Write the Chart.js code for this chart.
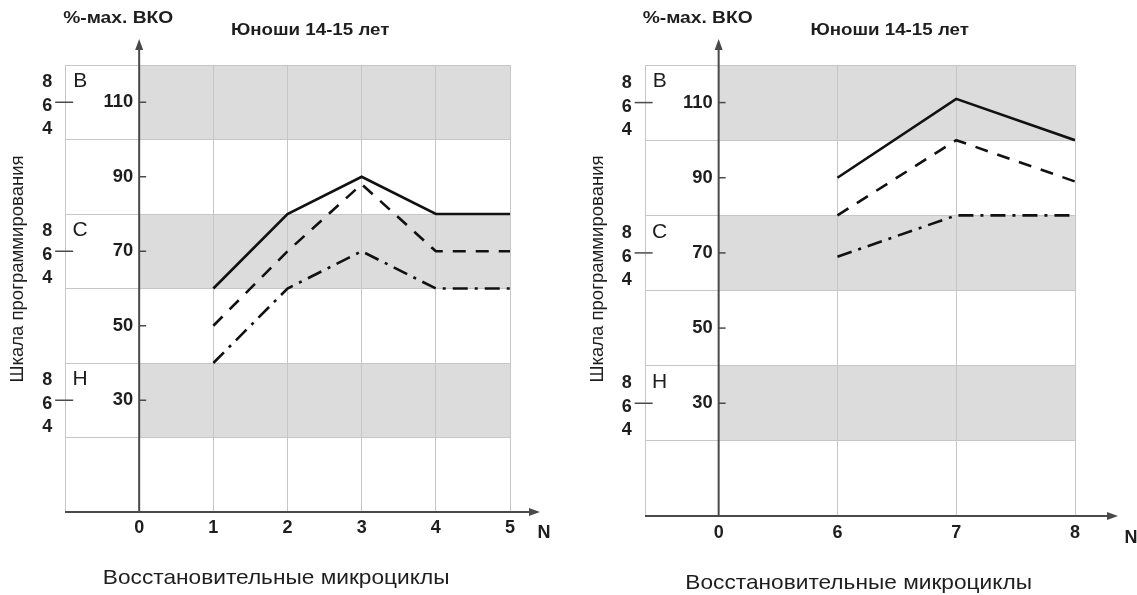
<!DOCTYPE html>
<html><head><meta charset="utf-8">
<script src="https://cdn.jsdelivr.net/npm/chart.js@4/dist/chart.umd.min.js"></script>
<style>
html,body{margin:0;padding:0;background:#fff;}
body{width:1137px;height:595px;overflow:hidden;position:relative;}
.box{position:absolute;top:0;height:595px;}
</style></head><body>
<div class="box" style="left:0;width:570px"><canvas id="c1"></canvas></div>
<div class="box" style="left:570px;width:567px"><canvas id="c2"></canvas></div>
<script>
// ---- texts ----
const titleText = 'Юноши 14-15 лет';
const yUnitText = '%-мах. ВКО';
const xTitleText = 'Восстановительные микроциклы';
const yTitleText = 'Шкала программирования';
const xAxisName = 'N';

// ---- categories (x) ----
const leftCategories = ['0', '1', '2', '3', '4', '5'];
const rightCategories = ['0', '6', '7', '8'];

// ---- series values (null = no value) ----
const leftSolid   = [null, 60, 80, 90, 80, 80];
const leftDashed  = [null, 50, 70, 88, 70, 70];
const leftDashDot = [null, 40, 60, 70, 60, 60];

const rightSolid   = [null, 90, 111, 100];
const rightDashed  = [null, 80, 100, 89];
const rightDashDot = [null, 69, 80, 80];

// ---- y tick labels and zones ----
const yTickLabels = [30, 50, 70, 90, 110];
const yGridValues = [0, 20, 40, 60, 80, 100, 120];
const zoneLetters = ['В', 'С', 'Н'];
const zoneCenters = [110, 70, 30];
const zoneSubLabels = ['8', '6', '4'];
const shadedBands = [[100, 120], [60, 80], [20, 40]];

const FONT = '"Liberation Sans", Arial, sans-serif';
const TEXT = '#1e1e1e';
const AXIS = '#4a4a4a';
const GRID = '#c6c6c6';

function stretchText(ctx, txt, x, y, font, align, sx) {
  ctx.save();
  ctx.font = font;
  ctx.textAlign = align;
  ctx.textBaseline = 'middle';
  ctx.translate(x, y);
  ctx.scale(sx, 1);
  ctx.fillText(txt, 0, 0);
  ctx.restore();
}

function makeDecor(cats, opts) {
  return {
    id: 'decor',
    beforeDraw(chart) {
      const {ctx, chartArea: a, scales: {x, y}} = chart;
      const x0 = x.getPixelForValue(0);
      ctx.save();
      ctx.fillStyle = '#dcdcdc';
      shadedBands.forEach(([lo, hi]) => {
        const yt = y.getPixelForValue(hi), yb = y.getPixelForValue(lo);
        ctx.fillRect(x0, yt, a.right - x0, yb - yt);
      });
      ctx.restore();
    },
    afterDraw(chart) {
      const {ctx, chartArea: a, scales: {x, y}} = chart;
      const x0 = x.getPixelForValue(0);
      const yb = y.getPixelForValue(0);
      ctx.save();
      // axes
      ctx.strokeStyle = AXIS; ctx.fillStyle = AXIS; ctx.lineWidth = 2;
      ctx.beginPath();
      ctx.moveTo(x0, yb); ctx.lineTo(x0, a.top - 18);
      ctx.moveTo(a.left, yb); ctx.lineTo(a.right + opts.arrowExt - 6, yb);
      ctx.stroke();
      // arrowheads
      ctx.beginPath();
      ctx.moveTo(x0, a.top - 26); ctx.lineTo(x0 - 4, a.top - 15); ctx.lineTo(x0 + 4, a.top - 15); ctx.closePath(); ctx.fill();
      const tx = a.right + opts.arrowExt;
      ctx.beginPath();
      ctx.moveTo(tx, yb); ctx.lineTo(tx - 11, yb - 4); ctx.lineTo(tx - 11, yb + 4); ctx.closePath(); ctx.fill();
      // y tick marks
      ctx.lineWidth = 1.5;
      yTickLabels.forEach(v => {
        const py = y.getPixelForValue(v);
        ctx.beginPath(); ctx.moveTo(x0, py); ctx.lineTo(x0 + 7, py); ctx.stroke();
      });
      // zone dashes
      zoneCenters.forEach(v => {
        const py = y.getPixelForValue(v);
        ctx.beginPath(); ctx.moveTo(x0 - 84, py); ctx.lineTo(x0 - 66, py); ctx.stroke();
      });
      ctx.fillStyle = TEXT;
      // y tick labels
      yTickLabels.forEach(v => {
        stretchText(ctx, String(v), x0 - 6, y.getPixelForValue(v), 'bold 18px ' + FONT, 'right', 1.02);
      });
      // zone labels
      zoneCenters.forEach((v, i) => {
        const py = y.getPixelForValue(v);
        const offs = [-20, 4, 27];
        zoneSubLabels.forEach((s, j) => {
          stretchText(ctx, s, x0 - 92, py + offs[j], 'bold 18px ' + FONT, 'center', 1);
        });
        stretchText(ctx, zoneLetters[i], x0 - 59, py - 21, '21px ' + FONT, 'center', 1);
      });
      // x tick labels
      cats.forEach((c, i) => {
        stretchText(ctx, c, x.getPixelForValue(i), yb + opts.xLabelDy, 'bold 18px ' + FONT, 'center', 1);
      });
      stretchText(ctx, xAxisName, a.right + opts.nDx, yb + opts.xLabelDy + 5, 'bold 18px ' + FONT, 'center', 1);
      // titles
      stretchText(ctx, titleText, x0 + 171, 31, 'bold 16px ' + FONT, 'center', 1.17);
      stretchText(ctx, yUnitText, x0 - 21, 19, 'bold 16px ' + FONT, 'center', 1.2);
      stretchText(ctx, xTitleText, x0 + opts.xTitleDx, opts.xTitleY, '21px ' + FONT, 'center', 1.08);
      ctx.save();
      ctx.translate(x0 - 121, 269);
      ctx.rotate(-Math.PI / 2);
      stretchText(ctx, yTitleText, 0, 0, '18px ' + FONT, 'center', 1.03);
      ctx.restore();
      ctx.restore();
    }
  };
}

function pts(vals) {
  return vals.map((v, i) => v === null ? null : {x: i, y: v}).filter(p => p);
}

function makeChart(id, cats, solid, dashed, dashdot, opts) {
  const xMin = opts.xMin, xMax = cats.length - 1;
  const ds = (data, dash) => ({
    data: pts(data), borderColor: '#111', borderWidth: 2.6, borderDash: dash,
    pointRadius: 0, fill: false, tension: 0, borderCapStyle: 'butt', borderJoinStyle: 'miter'
  });
  return new Chart(document.getElementById(id), {
    type: 'line',
    data: { datasets: [ds(solid, []), ds(dashed, [13, 10]), ds(dashdot, [15, 7, 3, 7])] },
    options: {
      responsive: true, maintainAspectRatio: false, animation: false, devicePixelRatio: 1,
      layout: { padding: opts.pad },
      plugins: { legend: { display: false }, tooltip: { enabled: false }, title: { display: false } },
      scales: {
        x: {
          type: 'linear', min: xMin, max: xMax,
          afterBuildTicks(s) {
            const t = [{value: xMin}];
            for (let i = 0; i <= xMax; i++) t.push({value: i});
            s.ticks = t;
          },
          afterFit(s) { s.height = 0; },
          ticks: { display: false },
          border: { display: false },
          grid: { color: ctx => ctx.tick && ctx.tick.value === 0 ? 'transparent' : GRID, lineWidth: 1, drawTicks: false }
        },
        y: {
          type: 'linear', min: 0, max: 120,
          afterBuildTicks(s) { s.ticks = yGridValues.map(v => ({value: v})); },
          afterFit(s) { s.width = 0; },
          ticks: { display: false },
          border: { display: false },
          grid: { color: ctx => ctx.tick && ctx.tick.value === 0 ? 'transparent' : GRID, lineWidth: 1, drawTicks: false }
        }
      }
    },
    plugins: [makeDecor(cats, opts)]
  });
}

makeChart('c1', leftCategories, leftSolid, leftDashed, leftDashDot, {
  xMin: -1, pad: {left: 65, right: 60, top: 65, bottom: 83},
  arrowExt: 30, nDx: 34, xLabelDy: 16, xTitleDx: 137, xTitleY: 578
});
makeChart('c2', rightCategories, rightSolid, rightDashed, rightDashDot, {
  xMin: -0.62, pad: {left: 75, right: 62, top: 65, bottom: 79},
  arrowExt: 43, nDx: 56, xLabelDy: 17, xTitleDx: 140, xTitleY: 583
});
</script>
</body></html>
